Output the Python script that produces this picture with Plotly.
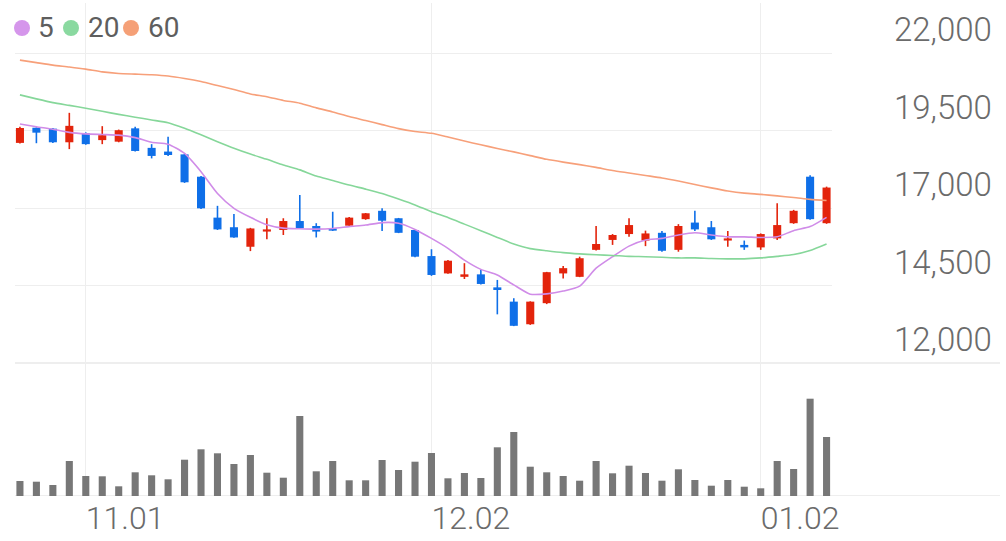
import plotly.graph_objects as go

# trading days shown (2024-10-28 .. 2025-01-08)
dates = [
    "2024-10-28", "2024-10-29", "2024-10-30", "2024-10-31", "2024-11-01",
    "2024-11-04", "2024-11-05", "2024-11-06", "2024-11-07", "2024-11-08",
    "2024-11-11", "2024-11-12", "2024-11-13", "2024-11-14", "2024-11-15",
    "2024-11-18", "2024-11-19", "2024-11-20", "2024-11-21", "2024-11-22",
    "2024-11-25", "2024-11-26", "2024-11-27", "2024-11-28", "2024-11-29",
    "2024-12-02", "2024-12-03", "2024-12-04", "2024-12-05", "2024-12-06",
    "2024-12-09", "2024-12-10", "2024-12-11", "2024-12-12", "2024-12-13",
    "2024-12-16", "2024-12-17", "2024-12-18", "2024-12-19", "2024-12-20",
    "2024-12-23", "2024-12-24", "2024-12-26", "2024-12-27", "2024-12-30",
    "2025-01-02", "2025-01-03", "2025-01-06", "2025-01-07", "2025-01-08",
]

opens = [
    19100, 19590, 19560, 19120, 19410, 19190, 19140, 19570, 18940, 18820,
    18730, 18010, 16690, 16380, 15750, 16240, 16290, 16580, 16420, 16340,
    16430, 16640, 16910, 16670, 16290, 15450, 14890, 14780, 14860, 14440,
    13980, 13250, 13930, 14890, 14780, 15650, 15970, 16160, 15950, 16200,
    15650, 16530, 16380, 15950, 15810, 15730, 16020, 16510, 18010, 16510,
]
highs = [
    19620, 19600, 19580, 20070, 19440, 19640, 19530, 19620, 19060, 19300,
    18750, 18030, 17070, 16810, 16360, 16670, 16670, 17420, 16510, 16880,
    16710, 16840, 16990, 16680, 16300, 15670, 15320, 15220, 15020, 14680,
    14090, 13990, 14940, 15130, 15430, 16420, 16160, 16670, 16270, 16260,
    16480, 16910, 16580, 16260, 15950, 16180, 17150, 16940, 18060, 17690,
]
lows = [
    19080, 19090, 19100, 18900, 19040, 19060, 19120, 18820, 18600, 18680,
    17810, 16970, 16290, 16040, 15610, 15990, 16130, 16330, 16050, 16260,
    16410, 16620, 16260, 16190, 15410, 14810, 14880, 14710, 14530, 13570,
    13190, 13230, 13900, 14730, 14770, 15630, 15810, 16070, 15770, 15590,
    15590, 16260, 15970, 15750, 15650, 15650, 15970, 16490, 16620, 16490,
]
closes = [
    19580, 19430, 19120, 19650, 19060, 19350, 19510, 18840, 18680, 18710,
    17830, 16990, 16310, 16050, 16340, 16310, 16580, 16350, 16240, 16270,
    16690, 16830, 16590, 16200, 15430, 14840, 15300, 14860, 14550, 14380,
    13200, 13980, 14930, 15060, 15380, 15840, 16130, 16450, 16180, 15620,
    16420, 16310, 15990, 16020, 15730, 16160, 16450, 16910, 16640, 17660,
]
volumes = [
    75000, 71500, 55000, 175000, 100000, 98500, 48500, 118500, 103500, 83500,
    181500, 233500, 213500, 160000, 205000, 116500, 91500, 400000, 123500, 175000,
    78500, 78500, 180000, 130000, 171500, 215000, 88500, 115000, 90000, 243500,
    320000, 146500, 118500, 100000, 76500, 175000, 113500, 151500, 115000, 76500,
    133500, 80000, 51500, 80000, 46500, 38500, 175000, 135000, 486500, 295000,
]

# moving averages as shown on the chart
ma5 = [
    19710, 19620, 19540, 19440, 19390, 19370, 19350, 19270, 19120, 19060,
    18760, 18170, 17470, 16990, 16700, 16460, 16350, 16330, 16320, 16340,
    16400, 16450, 16530, 16510, 16310, 16020, 15700, 15320, 15020, 14840,
    14520, 14220, 14230, 14320, 14480, 15060, 15430, 15770, 15970, 16020,
    16130, 16200, 16130, 16070, 16070, 16050, 16070, 16270, 16400, 16700,
]
ma20 = [
    20650, 20520, 20400, 20310, 20220, 20120, 20020, 19930, 19840, 19750,
    19570, 19360, 19140, 18930, 18740, 18570, 18390, 18230, 18030, 17890,
    17740, 17610, 17470, 17290, 17100, 16880, 16690, 16480, 16270, 16050,
    15840, 15690, 15620, 15560, 15520, 15490, 15470, 15440, 15430, 15410,
    15390, 15390, 15370, 15360, 15360, 15390, 15440, 15500, 15630, 15840,
]
ma60 = [
    21770, 21690, 21610, 21550, 21480, 21390, 21340, 21320, 21300, 21260,
    21180, 21080, 20950, 20820, 20680, 20590, 20470, 20380, 20230, 20100,
    19950, 19820, 19690, 19560, 19470, 19410, 19290, 19160, 19040, 18920,
    18810, 18690, 18570, 18480, 18400, 18310, 18210, 18130, 18050, 17970,
    17870, 17760, 17650, 17550, 17480, 17440, 17390, 17340, 17280, 17240,
]

x_ticks = ["2024-11-01", "2024-12-02", "2025-01-02"]
x_tick_labels = ["11.01", "12.02", "01.02"]
price_ticks = [12000, 14500, 17000, 19500, 22000]
price_tick_labels = ["12,000", "14,500", "17,000", "19,500", "22,000"]

UP = "#e3240c"
DOWN = "#0f6fe8"
VOL = "#777777"
GRID = "#eeeeee"
TEXT = "#6b6b6b"

ma_series = [
    ("5", ma5, "#d08ce8", "#d596eb"),
    ("20", ma20, "#86d79a", "#8ad9a0"),
    ("60", ma60, "#f7a07a", "#f5a077"),
]

# pixel geometry of the plot area (1006 x 541 page)
PL, PR, PT, PB = 15, 832, 3, 496


def px_x(px):
    return (px - PL) / (PR - PL)


def px_y(py):
    return (PB - py) / (PB - PT)


fig = go.Figure()

# volume bars on a hidden overlaid axis
fig.add_trace(go.Bar(
    x=dates, y=volumes, yaxis="y2", marker=dict(color=VOL, line=dict(width=0)),
    width=0.43, showlegend=False, hoverinfo="skip",
))

# candles: wick + body per direction
for is_up, color in [(True, UP), (False, DOWN)]:
    idx = [i for i in range(len(dates)) if (closes[i] >= opens[i]) == is_up]
    wx, wy = [], []
    for i in idx:
        wx += [dates[i], dates[i], None]
        wy += [lows[i], highs[i], None]
    fig.add_trace(go.Scatter(
        x=wx, y=wy, mode="lines", line=dict(color=color, width=1.6),
        showlegend=False, hoverinfo="skip",
    ))
    fig.add_trace(go.Bar(
        x=[dates[i] for i in idx],
        y=[abs(closes[i] - opens[i]) for i in idx],
        base=[min(opens[i], closes[i]) for i in idx],
        width=0.49,
        marker=dict(color=color, line=dict(width=0)),
        showlegend=False,
        customdata=[[opens[i], highs[i], lows[i], closes[i]] for i in idx],
        hovertemplate="%{x}<br>O %{customdata[0]:,}<br>H %{customdata[1]:,}"
                      "<br>L %{customdata[2]:,}<br>C %{customdata[3]:,}<extra></extra>",
    ))

for name, values, line_color, _ in ma_series:
    fig.add_trace(go.Scatter(
        x=dates, y=values, mode="lines", name=name,
        line=dict(color=line_color, width=1.6, shape="spline", smoothing=0.6),
        showlegend=False,
    ))

shapes = []
# full-width baselines under price and volume panes
for yref, yval in [("y", price_ticks[0]), ("y2", 0)]:
    shapes.append(dict(
        type="line", xref="paper", yref=yref, x0=0, x1=px_x(1000), y0=yval, y1=yval,
        line=dict(color="#e8e8e8", width=1.5), layer="below",
    ))

annotations = []
legend_pos = [(22, 37), (71, 87), (131, 147)]
for (name, _, _, dot_color), (dot_x, text_x) in zip(ma_series, legend_pos):
    shapes.append(dict(
        type="circle", xref="paper", yref="paper",
        xsizemode="pixel", ysizemode="pixel",
        xanchor=px_x(dot_x), yanchor=px_y(28),
        x0=-8, x1=8, y0=-8, y1=8,
        fillcolor=dot_color, line=dict(width=0),
    ))
    annotations.append(dict(
        xref="paper", yref="paper", x=px_x(text_x), y=px_y(28),
        xanchor="left", yanchor="middle", showarrow=False, text=name,
        font=dict(size=28, color="#5e5e5e", family="Roboto"),
        borderpad=0,
    ))

fig.update_layout(
    width=1006,
    height=541,
    margin=dict(l=PL, r=1006 - PR, t=PT, b=541 - PB),
    paper_bgcolor="white",
    plot_bgcolor="white",
    barmode="overlay",
    font=dict(family="Roboto", color=TEXT),
    shapes=shapes,
    annotations=annotations,
    xaxis=dict(
        type="category",
        categoryorder="array",
        categoryarray=dates,
        range=[-0.3, 49.33],
        tickvals=x_ticks,
        ticktext=x_tick_labels,
        ticklabelposition="outside right",
        tickfont=dict(size=32, color=TEXT, family="Roboto", weight=300),
        showgrid=True,
        gridcolor=GRID,
        gridwidth=1,
        showline=False,
        zeroline=False,
        ticks="",
    ),
    yaxis=dict(
        side="right",
        range=[7710, 23613],
        tickvals=price_ticks,
        ticktext=price_tick_labels,
        ticklabelposition="outside top",
        ticklabelstandoff=61,
        tickfont=dict(size=33, color=TEXT, family="Roboto", weight=300),
        showgrid=True,
        gridcolor=GRID,
        gridwidth=1,
        zeroline=False,
        showline=False,
        ticks="",
    ),
    yaxis2=dict(
        overlaying="y",
        range=[0, 2465000],
        visible=False,
        showgrid=False,
        zeroline=False,
    ),
)

# drop the default page margin so the figure sits at the window's top-left
fig.write_html(
    "out.html",
    config={"displayModeBar": False},
    post_script="document.body.style.margin = '0px';",
)
